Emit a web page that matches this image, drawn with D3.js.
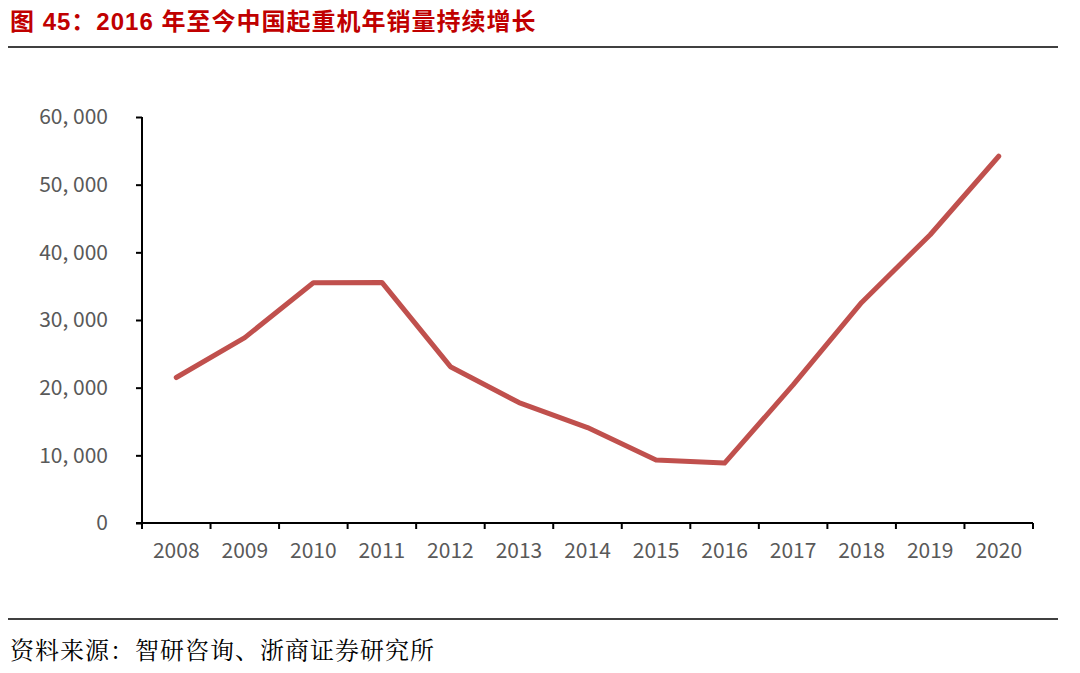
<!DOCTYPE html>
<html><head><meta charset="utf-8">
<script src="https://cdn.jsdelivr.net/npm/d3@7"></script>
<style>body{margin:0;background:#fff}svg{display:block}</style>
</head><body>
<svg id="c" width="1080" height="673"></svg>
<script>
const years = ["2008","2009","2010","2011","2012","2013","2014","2015","2016","2017","2018","2019","2020"];
const sales = [21500,27400,35500,35550,23100,17800,14100,9300,8850,20400,32600,42600,54200];
const yTicks = [0,10000,20000,30000,40000,50000,60000];
const titleText = "图 45：2016 年至今中国起重机年销量持续增长";
const sourceText = "资料来源：智研咨询、浙商证券研究所";

const svg = d3.select("#c");
const pL = 142, pR = 1033, pT = 117, pB = 523;
const x = d3.scaleBand().domain(years).range([pL, pR]);
const y = d3.scaleLinear().domain([0, 60000]).range([pB, pT]);

svg.append("text").attr("x", 10).attr("y", 30)
  .attr("fill", "#C00000").attr("font-size", 24).attr("font-weight", "bold")
  .attr("letter-spacing", 1)
  .attr("font-family", "'Liberation Sans','Noto Sans CJK SC',sans-serif")
  .text(titleText);
svg.append("line").attr("x1", 8).attr("x2", 1058).attr("y1", 47).attr("y2", 47)
  .attr("stroke", "#000").attr("stroke-width", 1.5);
svg.append("line").attr("x1", 8).attr("x2", 1058).attr("y1", 619).attr("y2", 619)
  .attr("stroke", "#000").attr("stroke-width", 1.5);
svg.append("text").attr("x", 10).attr("y", 659)
  .attr("fill", "#000").attr("font-size", 24).attr("letter-spacing", 1)
  .attr("font-family", "'Noto Serif CJK SC','Noto Sans CJK SC',serif")
  .text(sourceText);

const fmt = d => d3.format(",")(d).replace(",", ", ");
const yAxis = svg.append("g").attr("transform", `translate(${pL},0)`)
  .call(d3.axisLeft(y).tickValues(yTicks).tickFormat(fmt).tickSize(6).tickPadding(28));
yAxis.select(".domain").attr("stroke", "#000").attr("stroke-width", 2).attr("d", `M0,${pT}V${pB}`);
yAxis.selectAll(".tick line").attr("stroke", "#000").attr("stroke-width", 2);
yAxis.selectAll(".tick text").attr("fill", "#595959").attr("font-size", 21)
  .attr("font-family", "'Noto Sans CJK SC','DejaVu Sans',sans-serif");

const xAxis = svg.append("g").attr("transform", `translate(0,${pB})`)
  .call(d3.axisBottom(x).tickSize(0).tickPadding(20));
xAxis.select(".domain").attr("stroke", "#000").attr("stroke-width", 2).attr("d", `M${pL-6},0H${pR}`);
xAxis.selectAll(".tick text").attr("fill", "#595959").attr("font-size", 21)
  .attr("font-family", "'Noto Sans CJK SC','DejaVu Sans',sans-serif");
const bounds = years.map(d => x(d)).concat([pR]);
xAxis.selectAll(".bt").data(bounds).enter().append("line")
  .attr("x1", d => d).attr("x2", d => d).attr("y1", 0).attr("y2", 6)
  .attr("stroke", "#000").attr("stroke-width", 2);

const line = d3.line().x((d, i) => x(years[i]) + x.bandwidth() / 2).y(d => y(d));
svg.append("path").datum(sales).attr("d", line)
  .attr("fill", "none").attr("stroke", "#C0504D").attr("stroke-width", 5)
  .attr("stroke-linecap", "round").attr("stroke-linejoin", "round");
</script>
</body></html>
